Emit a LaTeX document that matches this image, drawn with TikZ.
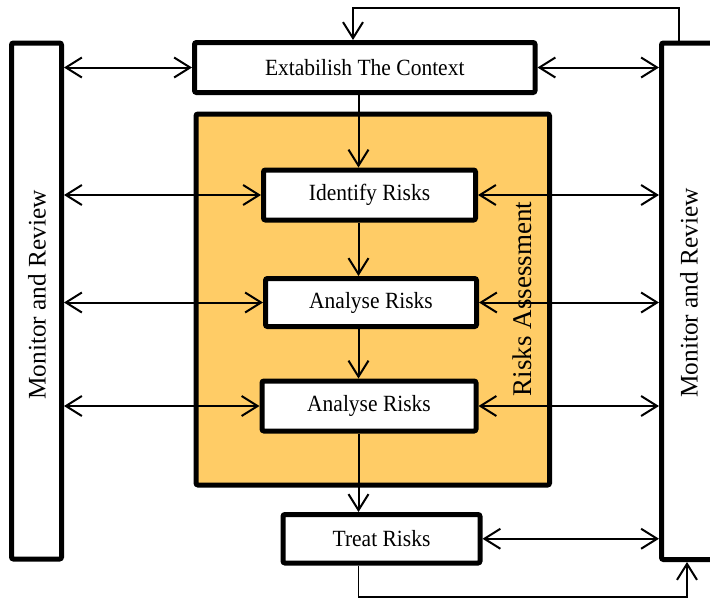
\documentclass[tikz,border=0pt]{standalone}
\usepackage{fontspec}
\setmainfont{Liberation Serif}
\usetikzlibrary{arrows.meta}
\definecolor{orangefill}{RGB}{255,204,102}
\newcommand{\tallt}[1]{\scalebox{1}[1.08]{#1}}
\tikzset{
  box/.style={draw=black, line width=5pt, fill=white, rounded corners=2pt, inner sep=0pt, font=\fontsize{21.5}{25}\selectfont},
  sidebox/.style={draw=black, line width=5pt, fill=white, rounded corners=2pt, inner sep=0pt},
  sidelabel/.style={rotate=90, inner sep=0pt, font=\fontsize{25.3}{29}\selectfont},
  tipb/.tip={Straight Barb[length=16pt,width=20pt,line width=2pt]},
  arr/.style={line width=2pt, {tipb}-{tipb}},
  one/.style={line width=2pt, -{tipb}},
  loopline/.style={line width=1.5pt, -{tipb}}
}
\begin{document}
\begin{tikzpicture}[x=1pt,y=-1pt]
\useasboundingbox (0,0) rectangle (710,598);
% orange assessment region
\node[draw=black, line width=5pt, fill=orangefill, rounded corners=2pt, minimum width=353.5pt, minimum height=371pt, inner sep=0pt] (O) at (372.75,299.5) {};
\node[sidelabel, font=\fontsize{27}{31}\selectfont] (RA) at (522,299) {Risks Assessment};
% side boxes
\node[sidebox, minimum width=50pt, minimum height=516pt] (L) at (36.5,301) {};
\node[sidelabel] (Ltxt) at (37,295) {Monitor and Review};
\node[sidebox, minimum width=68.5pt, minimum height=516.5pt] (R) at (695.75,301.25) {};
\node[sidelabel] (Rtxt) at (689,293) {Monitor and Review};
% process boxes
\node[box, minimum width=340.5pt, minimum height=50pt] (T) at (364.75,67.5) {\tallt{Extabilish The Context}};
\node[box, minimum width=212pt, minimum height=50pt] (I) at (369.5,195) {\tallt{Identify Risks}};
\node[box, minimum width=211pt, minimum height=48pt] (A1) at (371,302.5) {\tallt{Analyse Risks}};
\node[box, minimum width=214pt, minimum height=50pt] (A2) at (369,406) {\tallt{Analyse Risks}};
\node[box, minimum width=197pt, minimum height=48.5pt] (Tr) at (381.5,538.75) {\tallt{Treat Risks}};
% helper coordinates
\coordinate (col) at (358.5,0);
\coordinate (tl) at (353,8);
\coordinate (tr) at (679,8);
\coordinate (bl) at (358.5,597);
\coordinate (br) at (687,597);
% left double arrows
\draw[arr] (L.east |- T.west) -- (T.west);
\draw[arr] (L.east |- I.west) -- (I.west);
\draw[arr] (L.east |- A1.west) -- (A1.west);
\draw[arr] (L.east |- A2.west) -- (A2.west);
% right double arrows
\draw[arr] (T.east) -- (R.west |- T.east);
\draw[arr] (I.east) -- (R.west |- I.east);
\draw[arr] (A1.east) -- (R.west |- A1.east);
\draw[arr] (A2.east) -- (R.west |- A2.east);
\draw[arr] (Tr.east) -- (R.west |- Tr.east);
% vertical flow
\draw[one] (T.south -| col) -- (I.north -| col);
\draw[one] (I.south -| col) -- (A1.north -| col);
\draw[one] (A1.south -| col) -- (A2.north -| col);
\draw[one] (A2.south -| col) -- (Tr.north -| col);
% feedback loops
\draw[loopline] (R.north -| tr) -- (tr) -- (tl) -- (T.north -| tl);
\draw[loopline] (Tr.south -| bl) -- (bl) -- (br) -- (R.south -| br);
\end{tikzpicture}
\end{document}
